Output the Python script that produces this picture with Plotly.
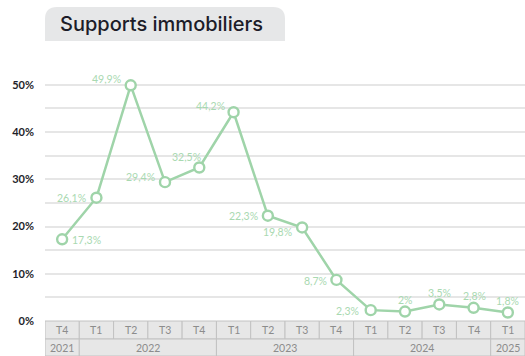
import plotly.graph_objects as go

# ---- data ----
quarters = ["T4", "T1", "T2", "T3", "T4", "T1", "T2", "T3", "T4", "T1", "T2", "T3", "T4", "T1"]
years = ["2021", "2022", "2022", "2022", "2022", "2023", "2023", "2023", "2023",
         "2024", "2024", "2024", "2024", "2025"]
values = [17.3, 26.1, 49.9, 29.4, 32.5, 44.2, 22.3, 19.8, 8.7, 2.3, 2.0, 3.5, 2.8, 1.8]
y_ticks = [0, 10, 20, 30, 40, 50]
y_tick_labels = ["0%", "10%", "20%", "30%", "40%", "50%"]
title_text = "Supports immobiliers"

# label placement styles (anchor, xshift px, yshift px)
label_styles = [
    ("left", 8, -1), ("right", -8, 0), ("right", -8, 6), ("right", -8, 5),
    ("center", -13, 11), ("right", -7, 6), ("right", -8, 0), ("right", -8, -5),
    ("right", -7, -1), ("right", -10, -1), ("center", 0, 12), ("center", 0, 11),
    ("center", 1, 12), ("center", 0, 12),
]

LINE = "#9fd4a9"
LABEL = "#a9d9b1"
GRID = "#e6e6e6"
CELL_FILL = "#e7e7e7"
CELL_LINE = "#c2c2c2"
CELL_TEXT = "#8c8c8c"

x = list(range(len(values)))

fig = go.Figure()
fig.add_trace(go.Scatter(
    x=x, y=values, mode="lines+markers",
    line=dict(color=LINE, width=2.5),
    marker=dict(size=10, color="white", line=dict(color=LINE, width=2.4)),
    hoverinfo="skip", cliponaxis=False,
))

annotations = []
for xi, v, (anc, xs, ys) in zip(x, values, label_styles):
    annotations.append(dict(
        x=xi, y=v, xref="x", yref="y",
        text=f"{v:g}".replace(".", ",") + "%",
        showarrow=False, xanchor=anc, yanchor="middle",
        xshift=xs, yshift=ys,
        font=dict(family="Lato", size=10.5, color=LABEL),
    ))

# table below the axis
plot_h = 260.0
row1_top, row1_bot = 0.0, -18 / plot_h
row2_top, row2_bot = -18 / plot_h, -35 / plot_h
shapes = []
for xi, q in zip(x, quarters):
    shapes.append(dict(type="rect", xref="x", yref="paper",
                       x0=xi - 0.5, x1=xi + 0.5, y0=row1_bot, y1=row1_top,
                       fillcolor=CELL_FILL, line=dict(color=CELL_LINE, width=1), layer="above"))
    annotations.append(dict(x=xi, y=(row1_top + row1_bot) / 2, xref="x", yref="paper",
                            text=q, showarrow=False, xanchor="center", yanchor="middle",
                            font=dict(family="Lato", size=10.5, color=CELL_TEXT)))
# group years
groups = []
for xi, yr in zip(x, years):
    if groups and groups[-1][0] == yr:
        groups[-1][2] = xi
    else:
        groups.append([yr, xi, xi])
for yr, a, b in groups:
    shapes.append(dict(type="rect", xref="x", yref="paper",
                       x0=a - 0.5, x1=b + 0.5, y0=row2_bot, y1=row2_top,
                       fillcolor=CELL_FILL, line=dict(color=CELL_LINE, width=1), layer="above"))
    annotations.append(dict(x=(a + b) / 2, y=(row2_top + row2_bot) / 2, xref="x", yref="paper",
                            text=yr, showarrow=False, xanchor="center", yanchor="middle",
                            font=dict(family="Lato", size=10.5, color=CELL_TEXT)))

# title tab with rounded top corners
x1p = 0.5
y0p, y1p = (321 - 41) / plot_h, (321 - 7) / plot_h
rx, ry = 12 / 480, 12 / plot_h
path = (f"M 0,{y0p} L 0,{y1p - ry} Q 0,{y1p} {rx},{y1p} "
        f"L {x1p - rx},{y1p} Q {x1p},{y1p} {x1p},{y1p - ry} L {x1p},{y0p} Z")
shapes.append(dict(type="path", xref="paper", yref="paper", path=path,
                   fillcolor="#e6e7e8", line=dict(width=0), layer="below"))

fig.update_layout(
    width=525, height=356,
    margin=dict(l=45, r=0, t=61, b=35),
    paper_bgcolor="white", plot_bgcolor="white",
    showlegend=False,
    title=dict(text=title_text, xref="container", yref="container",
               x=60 / 525, y=1 - 24 / 356, xanchor="left", yanchor="middle",
               font=dict(family="Inter", size=20, color="#1c1c28", weight=500)),
    xaxis=dict(range=[-0.5, len(values) - 0.5], showgrid=False, zeroline=False,
               showticklabels=False, showline=False, ticks=""),
    yaxis=dict(range=[0, 55.05], tickmode="array", tickvals=y_ticks, ticktext=y_tick_labels,
               showgrid=True, gridcolor=GRID, gridwidth=1.5, zeroline=False,
               minor=dict(dtick=5, showgrid=True, gridcolor=GRID, gridwidth=1.5),
               ticks="", ticklabelstandoff=10,
               tickfont=dict(family="Lato", size=11, color="#1e1e2a", weight="bold")),
    shapes=shapes,
    annotations=annotations,
)

fig.write_html("out.html", config={"displayModeBar": False},
               post_script="document.body.style.margin='0';document.body.style.overflow='hidden';")
